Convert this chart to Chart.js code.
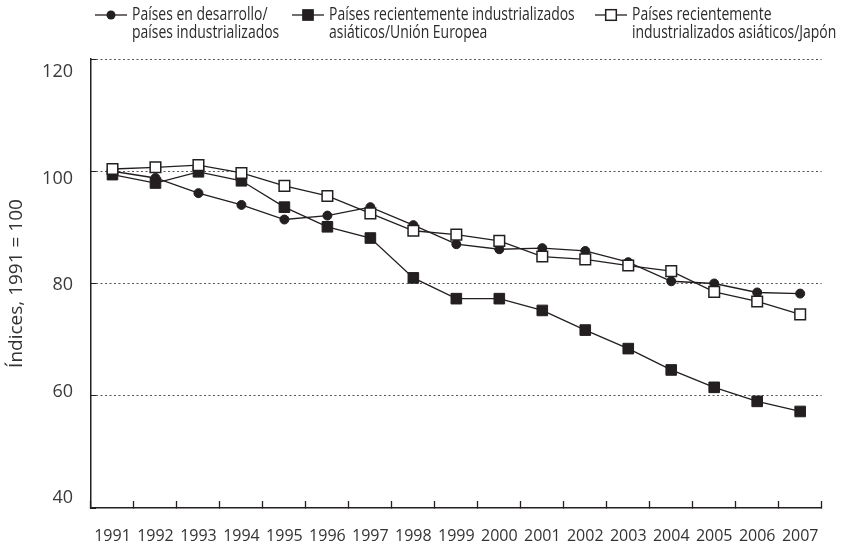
<!DOCTYPE html>
<html lang="es">
<head>
<meta charset="utf-8">
<script src="https://cdn.jsdelivr.net/npm/chart.js@4/dist/chart.umd.min.js"></script>
<style>
  html, body { margin: 0; padding: 0; background: #fff; }
  #wrap { position: relative; width: 845px; height: 545px; }
  #legend { position: absolute; left: 0; top: 0; width: 845px; height: 50px;
    font-family: "Open Sans", sans-serif; font-size: 18px;
    line-height: 17.5px; color: #2b2b2b; }
  .item { position: absolute; top: 0; }
  .item svg { position: absolute; left: 0; top: 7.5px; }
  /* el original usa una letra condensada */
  .item .txt { position: absolute; top: 5px; white-space: nowrap; transform: scaleX(0.775); transform-origin: 0 0; }
</style>
</head>
<body>
<div id="wrap">
  <canvas id="chart" width="845" height="545"></canvas>
  <div id="legend"></div>
</div>
<script>
// datos (índices, 1991 = 100)
const years = ['1991','1992','1993','1994','1995','1996','1997','1998','1999','2000','2001','2002','2003','2004','2005','2006','2007'];
const desarrollo = [100, 98.8, 96.1, 94.0, 91.4, 92.1, 93.6, 90.4, 87.0, 86.1, 86.3, 85.8, 83.8, 80.4, 80.0, 78.4, 78.2];
const nieUE = [99.4, 97.9, 99.9, 98.3, 93.6, 90.1, 88.1, 81.0, 77.3, 77.3, 75.2, 71.7, 68.4, 64.6, 61.5, 59.0, 57.2];
const nieJapon = [100.4, 100.7, 101.1, 99.7, 97.4, 95.6, 92.5, 89.4, 88.7, 87.6, 84.8, 84.3, 83.2, 82.2, 78.5, 76.8, 74.5];
const yTicks = [40, 60, 80, 100, 120];
const seriesNames = [
  ['Países en desarrollo/', 'países industrializados'],
  ['Países recientemente industrializados', 'asiáticos/Unión Europea'],
  ['Países recientemente', 'industrializados asiáticos/Japón']
];
const yTitle = 'Índices, 1991 = 100';

const ink = '#231f20';
const fontFam = '"Open Sans", sans-serif';
const legendLeft = [95, 292, 595];

const datasets = [
  { label: seriesNames[0].join(' '), data: desarrollo, pointStyle: 'circle', pointRadius: 4.5,
    pointBackgroundColor: ink, pointBorderWidth: 1, order: 1 },
  { label: seriesNames[1].join(' '), data: nieUE, pointStyle: 'rect', pointRadius: 7.5,
    pointBackgroundColor: ink, pointBorderWidth: 1, order: 2 },
  { label: seriesNames[2].join(' '), data: nieJapon, pointStyle: 'rect', pointRadius: 7.5,
    pointBackgroundColor: '#fff', pointBorderWidth: 1.5, order: 0 }
].map(d => Object.assign({ borderColor: ink, borderWidth: 1.3, pointBorderColor: ink, tension: 0, fill: false }, d));

// leyenda en html (dos líneas por serie)
const legend = document.getElementById('legend');
datasets.forEach((d, i) => {
  const item = document.createElement('div');
  item.className = 'item';
  item.style.left = legendLeft[i] + 'px';
  const side = d.pointStyle === 'rect' ? d.pointRadius * Math.SQRT2 : 0;
  const mark = d.pointStyle === 'rect'
    ? `<rect x="${16 - side / 2}" y="${7 - side / 2}" width="${side}" height="${side}" fill="${d.pointBackgroundColor}" stroke="${ink}" stroke-width="${d.pointBorderWidth}"/>`
    : `<circle cx="16" cy="7" r="${d.pointRadius}" fill="${ink}"/>`;
  item.innerHTML = `<svg width="32" height="14"><line x1="0" y1="7" x2="32" y2="7" stroke="${ink}" stroke-width="1.3"/>${mark}</svg>` +
    `<div class="txt" style="left:37px">${seriesNames[i][0]}<br>${seriesNames[i][1]}</div>`;
  legend.appendChild(item);
});

new Chart(document.getElementById('chart'), {
  type: 'line',
  data: { labels: years, datasets: datasets },
  options: {
    responsive: false,
    animation: false,
    layout: { padding: { left: 0, top: 59, right: 18, bottom: 0 } },
    plugins: { legend: { display: false }, tooltip: { enabled: false } },
    scales: {
      x: {
        type: 'category',
        offset: true,
        grid: { offset: true, drawOnChartArea: false, drawTicks: true, tickLength: -7, tickColor: ink, tickWidth: 1.3 },
        border: { color: ink, width: 1.5 },
        ticks: { padding: 26, color: '#333', maxRotation: 0, autoSkip: false, font: { family: fontFam, size: 16 } },
        afterFit: s => { s.height = 37; }
      },
      y: {
        type: 'linear',
        position: 'left',
        weight: 0,
        min: yTicks[0],
        max: yTicks[yTicks.length - 1],
        ticks: { stepSize: 20, display: false },
        grid: {
          color: c => (c.tick && c.tick.value === yTicks[0]) ? 'rgba(0,0,0,0)' : '#555',
          lineWidth: 1,
          tickLength: -5, tickColor: ink, tickWidth: 1, tickBorderDash: []
        },
        // en v4 border.dash es el punteado de las líneas de la cuadrícula
        border: { color: ink, width: 1.5, dash: [2, 2.5] },
        afterFit: s => { s.width = 11; }
      },
      // eje solo para las etiquetas (en el original están algo desplazadas de las líneas)
      yLab: {
        type: 'linear',
        position: 'left',
        weight: 10,
        min: 38.1,
        max: 122.5,
        ticks: { stepSize: 20, includeBounds: false, padding: 7, color: '#3a3a3a', font: { family: fontFam, size: 18 } },
        grid: { display: false, drawTicks: false },
        border: { display: false },
        title: { display: true, text: yTitle, color: '#333', padding: { top: 5, bottom: 0 },
          font: { family: fontFam, size: 19 } },
        afterFit: s => { s.width = 80; }
      }
    }
  }
});
</script>
</body>
</html>
